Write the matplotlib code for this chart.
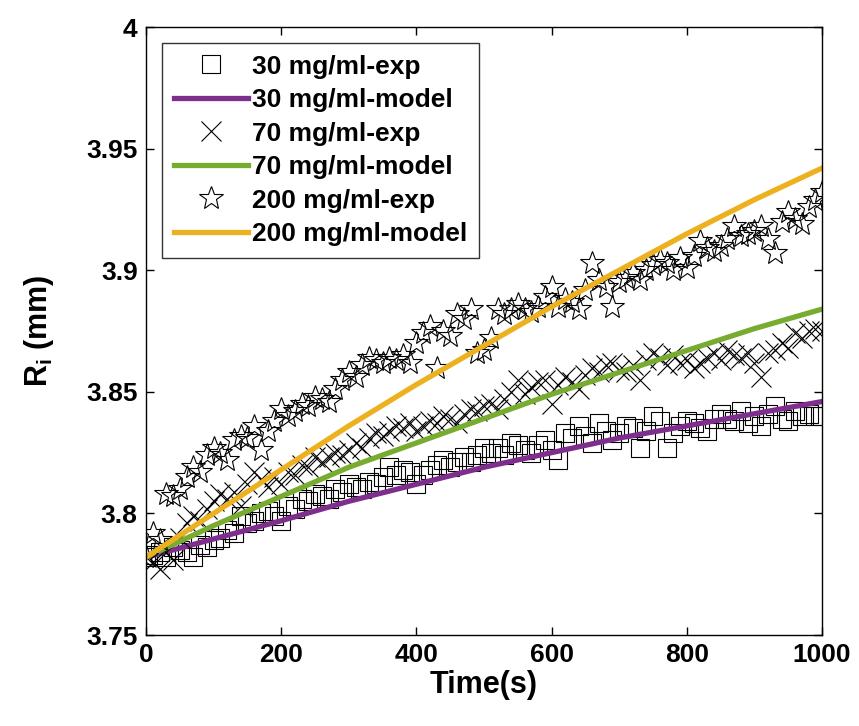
import numpy as np
import matplotlib.pyplot as plt

plt.rcParams['font.family'] = ['Liberation Sans', 'DejaVu Sans']
plt.rcParams['font.weight'] = 'bold'
plt.rcParams['mathtext.fontset'] = 'custom'
plt.rcParams['mathtext.bf'] = 'Liberation Sans:bold'
plt.rcParams['mathtext.rm'] = 'Liberation Sans:bold'

# experimental time points (s)
t_exp = np.arange(0, 1001, 10)

# 30 mg/ml experiment
r30_exp = [3.782, 3.783, 3.784, 3.782, 3.786, 3.785, 3.784, 3.782, 3.787, 3.786,
           3.789, 3.790, 3.793, 3.792, 3.799, 3.796, 3.797, 3.800, 3.801, 3.799,
           3.797, 3.803, 3.802, 3.806, 3.805, 3.808, 3.807, 3.806, 3.810, 3.809,
           3.812, 3.811, 3.810, 3.813, 3.812, 3.815, 3.819, 3.816, 3.818, 3.817,
           3.812, 3.816, 3.818, 3.820, 3.822, 3.819, 3.821, 3.823, 3.821, 3.824,
           3.827, 3.825, 3.827, 3.824, 3.829, 3.828, 3.826, 3.825, 3.828, 3.830,
           3.826, 3.822, 3.833, 3.831, 3.836, 3.832, 3.829, 3.837, 3.834, 3.830,
           3.833, 3.836, 3.835, 3.827, 3.834, 3.840, 3.838, 3.827, 3.833, 3.836,
           3.838, 3.837, 3.835, 3.834, 3.839, 3.841, 3.839, 3.838, 3.842, 3.837,
           3.840, 3.836, 3.841, 3.844, 3.839, 3.838, 3.842, 3.840, 3.841, 3.840,
           3.840]

# 70 mg/ml experiment
r70_exp = [3.782, 3.780, 3.777, 3.784, 3.781, 3.790, 3.796, 3.799, 3.797, 3.802,
           3.805, 3.808, 3.806, 3.809, 3.803, 3.812, 3.817, 3.814, 3.811, 3.815,
           3.812, 3.817, 3.816, 3.820, 3.819, 3.823, 3.821, 3.823, 3.825, 3.824,
           3.826, 3.829, 3.827, 3.831, 3.833, 3.832, 3.834, 3.836, 3.835, 3.837,
           3.834, 3.836, 3.838, 3.837, 3.840, 3.839, 3.837, 3.841, 3.843, 3.842,
           3.844, 3.845, 3.843, 3.847, 3.850, 3.855, 3.849, 3.852, 3.854, 3.855,
           3.845, 3.853, 3.856, 3.854, 3.851, 3.857, 3.860, 3.858, 3.861, 3.862,
           3.859, 3.858, 3.861, 3.855, 3.863, 3.866, 3.864, 3.861, 3.865, 3.862,
           3.863, 3.860, 3.862, 3.864, 3.866, 3.863, 3.867, 3.865, 3.864, 3.866,
           3.862, 3.856, 3.866, 3.867, 3.870, 3.868, 3.874, 3.872, 3.875, 3.876,
           3.875]

# 200 mg/ml experiment
r200_exp = [3.782, 3.792, 3.789, 3.808, 3.807, 3.810, 3.815, 3.819, 3.817, 3.824,
            3.827, 3.825, 3.822, 3.830, 3.832, 3.831, 3.836, 3.826, 3.834, 3.838,
            3.843, 3.840, 3.842, 3.845, 3.844, 3.848, 3.847, 3.846, 3.851, 3.855,
            3.858, 3.856, 3.861, 3.864, 3.863, 3.862, 3.864, 3.863, 3.865, 3.862,
            3.870, 3.874, 3.877, 3.860, 3.875, 3.873, 3.882, 3.880, 3.884, 3.866,
            3.867, 3.872, 3.884, 3.882, 3.884, 3.886, 3.884, 3.883, 3.885, 3.889,
            3.893, 3.885, 3.888, 3.887, 3.884, 3.892, 3.903, 3.896, 3.893, 3.885,
            3.895, 3.897, 3.899, 3.896, 3.900, 3.902, 3.904, 3.903, 3.900, 3.905,
            3.901, 3.906, 3.912, 3.909, 3.908, 3.910, 3.913, 3.918, 3.914, 3.915,
            3.916, 3.918, 3.913, 3.907, 3.920, 3.924, 3.921, 3.919, 3.926, 3.929,
            3.932]

# model curves
t_model = [0, 100, 200, 300, 400, 500, 600, 700, 800, 900, 1000]
r30_model = [3.782, 3.7895, 3.797, 3.805, 3.812, 3.819, 3.825, 3.831, 3.836, 3.841, 3.846]
r70_model = [3.782, 3.795, 3.807, 3.819, 3.829, 3.839, 3.849, 3.858, 3.867, 3.876, 3.884]
r200_model = [3.782, 3.800, 3.818, 3.836, 3.853, 3.869, 3.885, 3.900, 3.915, 3.929, 3.942]

fig = plt.figure(figsize=(8.59, 7.26), dpi=100)
ax = fig.add_axes([0.170, 0.1253, 0.787, 0.8375])

mk = dict(linestyle='none', markerfacecolor='none', markeredgecolor='black', markeredgewidth=0.8)
ax.plot(t_exp, r30_exp, marker='s', markersize=13, label='30 mg/ml-exp', **mk)
ax.plot(t_model, r30_model, color='#7E2F8E', linewidth=3.8, label='30 mg/ml-model')
ax.plot(t_exp, r70_exp, marker='x', markersize=14, label='70 mg/ml-exp', **mk)
ax.plot(t_model, r70_model, color='#77AC30', linewidth=3.8, label='70 mg/ml-model')
ax.plot(t_exp, r200_exp, marker='*', markersize=18, label='200 mg/ml-exp', **mk)
ax.plot(t_model, r200_model, color='#EDB120', linewidth=3.8, label='200 mg/ml-model')

ax.set_xlim(0, 1000)
ax.set_ylim(3.75, 4.0)
ax.set_xticks([0, 200, 400, 600, 800, 1000])
ax.set_yticks([3.75, 3.8, 3.85, 3.9, 3.95, 4.0])
ax.set_yticklabels(['3.75', '3.8', '3.85', '3.9', '3.95', '4'])
ax.tick_params(direction='in', length=6, width=1, top=True, right=True, labelsize=19, pad=6)
for lab in ax.get_xticklabels() + ax.get_yticklabels():
    lab.set_fontweight('bold')
for s in ax.spines.values():
    s.set_linewidth(1.0)

ax.set_xlabel('Time(s)', fontsize=22, fontweight='bold', labelpad=2)
ax.set_ylabel(r'R$_\mathbf{i}$ (mm)', fontsize=22, fontweight='bold', labelpad=22)

leg = ax.legend(loc='upper left', fontsize=19, frameon=True, fancybox=False,
                edgecolor='black', handlelength=2.8, handletextpad=0.15,
                borderaxespad=0.6, labelspacing=0.36, borderpad=0.45)
leg.get_frame().set_linewidth(1.0)
for txt in leg.get_texts():
    txt.set_fontweight('bold')

fig.savefig('out.png', dpi=100)
